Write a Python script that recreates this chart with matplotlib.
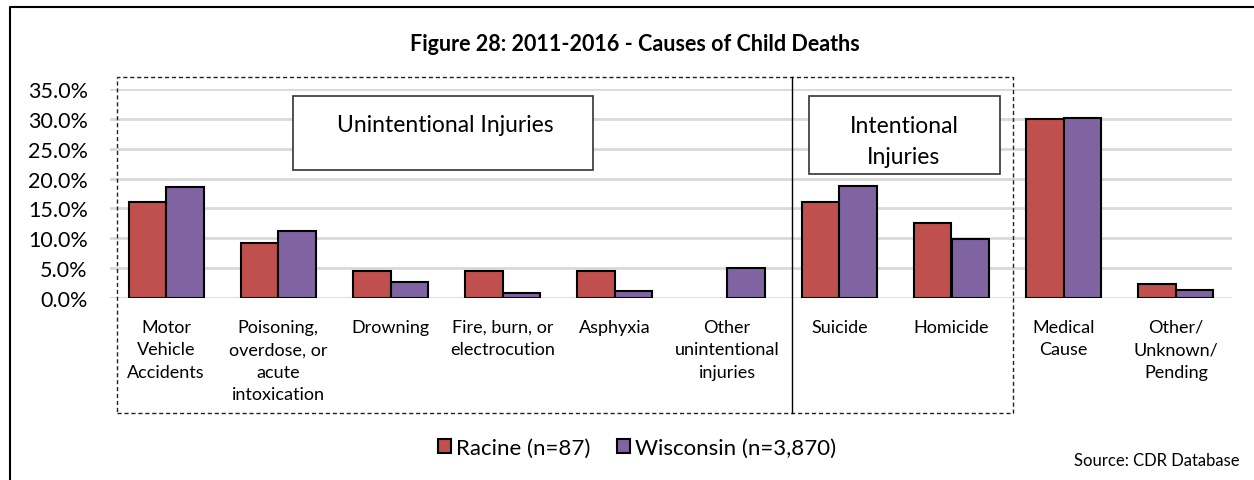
import numpy as np
import matplotlib
matplotlib.use("Agg")
import matplotlib.pyplot as plt
from matplotlib.patches import Rectangle, Patch
from matplotlib.lines import Line2D

plt.rcParams['font.family'] = ['Lato', 'DejaVu Sans']

categories = [
    "Motor\nVehicle\nAccidents",
    "Poisoning,\noverdose, or\nacute\nintoxication",
    "Drowning",
    "Fire, burn, or\nelectrocution",
    "Asphyxia",
    "Other\nunintentional\ninjuries",
    "Suicide",
    "Homicide",
    "Medical\nCause",
    "Other/\nUnknown/\nPending",
]
racine = [16.1, 9.2, 4.6, 4.6, 4.6, 0.0, 16.1, 12.6, 29.9, 2.3]
wisconsin = [18.6, 11.3, 2.7, 0.9, 1.2, 5.1, 18.7, 9.8, 30.1, 1.4]
yticks = [0, 5, 10, 15, 20, 25, 30, 35]

W, H = 1254, 481
fig = plt.figure(figsize=(W / 100, H / 100), dpi=100)


def fx(px):
    return px / W


def fy(py):
    return 1 - py / H


# plot area in pixel terms
left, right, top, bottom = 110, 1232, 90, 299
ax = fig.add_axes([fx(left), fy(bottom), fx(right - left), (bottom - top) / H])

x = np.arange(len(categories))
bw = 0.335
bars_r = ax.bar(x - bw / 2, racine, bw, color="#C0504D", edgecolor="black",
                linewidth=1.5, label="Racine (n=87)", zorder=3)
bars_w = ax.bar(x + bw / 2, wisconsin, bw, color="#8064A2", edgecolor="black",
                linewidth=1.5, label="Wisconsin (n=3,870)", zorder=3)
# no outline on empty bars
for b in list(bars_r) + list(bars_w):
    if b.get_height() == 0:
        b.set_linewidth(0)

ax.set_xlim(-0.5, len(categories) - 0.5)
ax.set_ylim(0, 35)
ax.set_yticks(yticks)
ax.set_yticklabels([f"{v:.1f}%" for v in yticks], fontsize=15.5)
ax.yaxis.grid(True, color="#D9D9D9", linewidth=2, zorder=0)
ax.set_xticks(x)
ax.set_xticklabels(categories, fontsize=13, linespacing=1.5, va="top")
ax.tick_params(axis="both", length=0)
ax.tick_params(axis="y", pad=16)
ax.tick_params(axis="x", pad=15)
for s in ax.spines.values():
    s.set_visible(False)
ax.patch.set_alpha(0)

# title
fig.text(fx(635), fy(45), "Figure 28: 2011-2016 - Causes of Child Deaths",
         ha="center", va="center", fontsize=15.5, fontweight="bold")

# outer frame lines
fig.add_artist(Line2D([fx(10), fx(10), 1], [0, fy(8), fy(8)], color="black",
                      linewidth=1.5, transform=fig.transFigure))

# dashed grouping box and divider
fig.add_artist(Rectangle((fx(117), fy(414)), fx(1013 - 117), (414 - 78) / H,
                         fill=False, linestyle=(0, (3, 2)), linewidth=1,
                         edgecolor="#222222", transform=fig.transFigure))
fig.add_artist(Line2D([fx(792), fx(792)], [fy(414), fy(78)], color="black",
                      linewidth=1, transform=fig.transFigure))

# group labels
fig.add_artist(Rectangle((fx(293), fy(171)), fx(593 - 293), (171 - 97) / H,
                         facecolor="white", edgecolor="#333333", linewidth=1.2,
                         transform=fig.transFigure, zorder=5))
fig.text(fx(445), fy(126), "Unintentional Injuries", ha="center", va="center",
         fontsize=16.5, zorder=6)
fig.add_artist(Rectangle((fx(809), fy(175)), fx(1000 - 809), (175 - 97) / H,
                         facecolor="white", edgecolor="#333333", linewidth=1.2,
                         transform=fig.transFigure, zorder=5))
fig.text(fx(904), fy(142), "Intentional\nInjuries", ha="center", va="center",
         fontsize=16.5, linespacing=1.6, zorder=6)

# legend
handles = [Patch(facecolor="#C0504D", edgecolor="black", linewidth=1.5),
           Patch(facecolor="#8064A2", edgecolor="black", linewidth=1.5)]
fig.legend(handles, ["Racine (n=87)", "Wisconsin (n=3,870)"], loc="center",
           bbox_to_anchor=(fx(637), fy(449)), ncol=2, frameon=False, fontsize=16,
           handlelength=0.6, handleheight=0.6, handletextpad=0.2, columnspacing=1.2)

fig.text(fx(1240), fy(461), "Source: CDR Database", ha="right", va="center",
         fontsize=12)

fig.savefig("out.png", dpi=100)
